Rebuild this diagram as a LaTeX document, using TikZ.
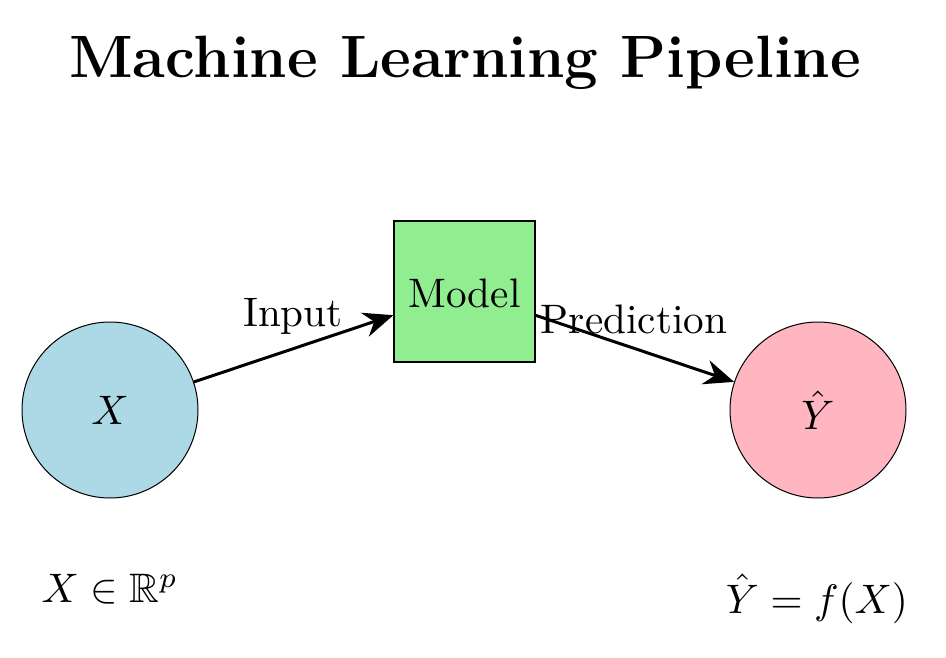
\RequirePackage{fix-cm}
\documentclass[tikz,border=0pt]{standalone}
\usepackage{graphicx}
\usepackage{amssymb}
\usetikzlibrary{arrows.meta}
\definecolor{mlblue}{RGB}{173,216,230}
\definecolor{mlgreen}{RGB}{144,238,144}
\definecolor{mlpink}{RGB}{255,182,193}
\newcommand{\bigtxt}[1]{\scalebox{4.12}{\normalsize #1}}
\tikzset{
  datacirc/.style={circle, draw=black, line width=1pt, minimum size=176pt, inner sep=0pt},
  modelbox/.style={rectangle, draw=black, line width=1.2pt, fill=mlgreen, minimum size=141pt, inner sep=0pt},
  flow/.style={line width=3pt, -{Stealth[length=30pt,width=25pt]}},
  lbl/.style={anchor=base, inner sep=0pt}
}
\begin{document}
\begin{tikzpicture}[x=1pt,y=-1pt]
\useasboundingbox (0,0) rectangle (946,658);
\node[lbl] (title) at (465,78) {\scalebox{4.15}{\Large\bfseries Machine Learning Pipeline}};
\node[datacirc, fill=mlblue] (X) at (110,410) {\bigtxt{$X$}};
\node[modelbox] (M) at (464.5,291.5) {};
\node[lbl] (mlabel) at (464.5,307) {\bigtxt{Model}};
\node[datacirc, fill=mlpink] (Y) at (818,410) {\bigtxt{$\hat{Y}$}};
\draw[flow] (X) -- (M);
\draw[flow] (M) -- (Y);
\node[lbl] (inp) at (293,326) {\bigtxt{Input}};
\node[lbl] (pred) at (634,333) {\bigtxt{Prediction}};
\node[lbl] (xdom) at (110,602) {\bigtxt{$X \in \mathbb{R}^p$}};
\node[lbl] (yfun) at (817,613) {\bigtxt{$\hat{Y} = f(X)$}};
\end{tikzpicture}
\end{document}
